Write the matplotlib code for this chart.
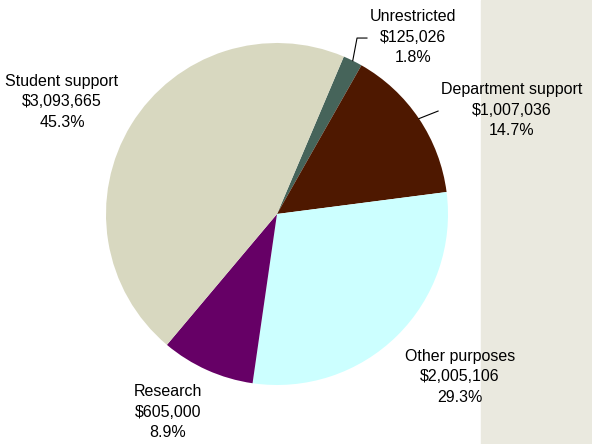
import numpy as np
import matplotlib.pyplot as plt
from matplotlib.patches import Rectangle

# Data
categories = ["Unrestricted", "Department support", "Other purposes", "Research", "Student support"]
amounts = [125026, 1007036, 2005106, 605000, 3093665]
percents = ["1.8%", "14.7%", "29.3%", "8.9%", "45.3%"]
colors = ["#46645A", "#4E1800", "#CCFFFF", "#660066", "#D8D8C0"]

plt.rcParams["font.family"] = ["Liberation Sans", "DejaVu Sans"]

W, H = 592, 444
fig = plt.figure(figsize=(W / 100, H / 100), dpi=100)
fig.patches.append(Rectangle((481 / W, 0), 1 - 481 / W, 1, transform=fig.transFigure,
                             color="#EAE9DF", zorder=-5))

# pie centred at (277, 214) px, radius 171 px
cx, cy, r = 277, 214, 171
ax = fig.add_axes([(cx - r) / W, (H - cy - r) / H, 2 * r / W, 2 * r / H])
ax.set_zorder(2)
wedges, _ = ax.pie(amounts, colors=colors, startangle=67, counterclock=False,
                   radius=1, wedgeprops=dict(linewidth=0))
ax.set_xlim(-1, 1)
ax.set_ylim(-1, 1)
ax.set_aspect("equal")
ax.axis("off")

# label positions (pie radius units)
label_pos = {
    "Unrestricted": (0.795, 1.035),
    "Department support": (1.374, 0.608),
    "Other purposes": (1.070, -0.953),
    "Research": (-0.637, -1.158),
    "Student support": (-1.257, 0.655),
}

for w, name, amt, pct in zip(wedges, categories, amounts, percents):
    x, y = label_pos[name]
    ax.text(x, y, f"{name}\n${amt:,}\n{pct}", ha="center", va="center",
            fontsize=11.5, linespacing=1.42, clip_on=False)

# leader lines for the two small slices
def edge_point(w):
    ang = np.deg2rad((w.theta1 + w.theta2) / 2)
    return np.cos(ang), np.sin(ang)

ux, uy = edge_point(wedges[0])
ax.plot([ux, 0.468, 0.526], [uy, 1.029, 1.029], color="black", lw=0.8, clip_on=False)
dx, dy = edge_point(wedges[1])
ax.plot([dx, 0.942], [dy, 0.602], color="black", lw=0.8, clip_on=False)

fig.savefig("out.png", dpi=100)
